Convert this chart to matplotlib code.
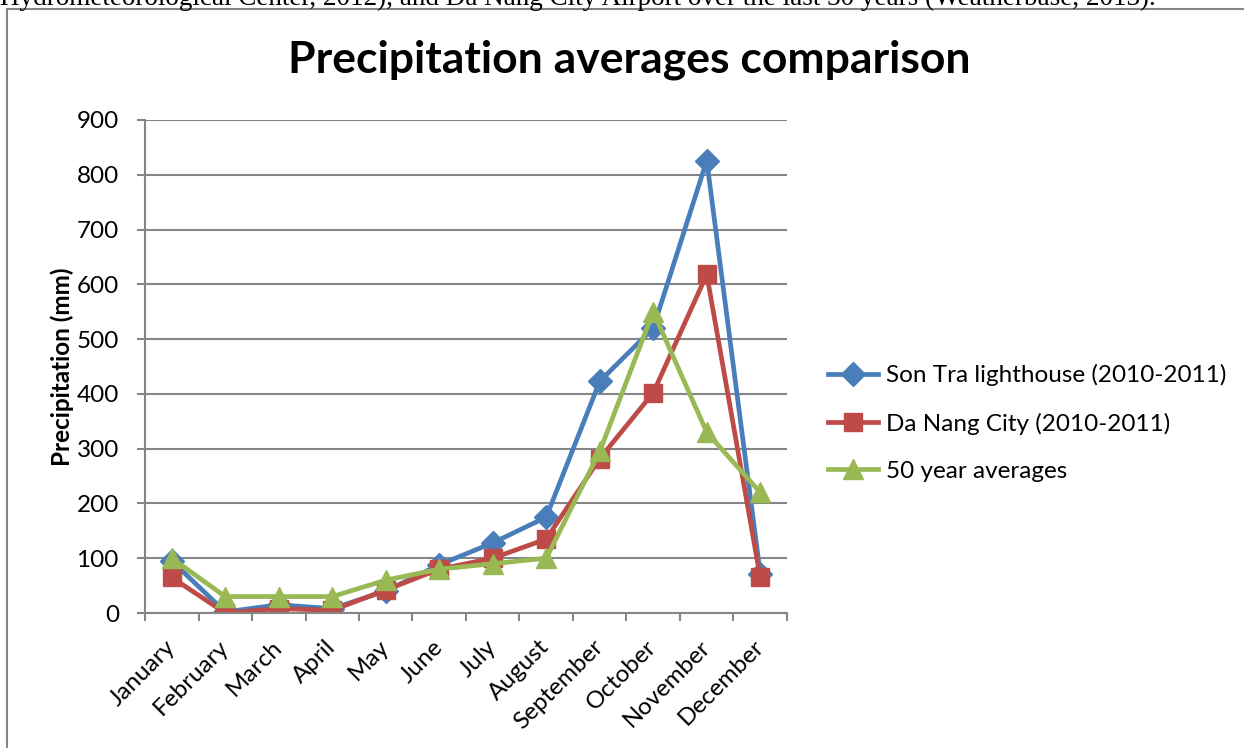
import numpy as np
import matplotlib.pyplot as plt
from matplotlib.patches import Rectangle
from matplotlib.ticker import FixedLocator

plt.rcParams['font.family'] = ['Lato', 'DejaVu Sans']

months = ["January", "February", "March", "April", "May", "June", "July",
          "August", "September", "October", "November", "December"]
son_tra = [95, 2, 15, 8, 40, 88, 128, 175, 423, 520, 826, 72]
da_nang = [65, 0, 8, 5, 42, 80, 100, 135, 282, 402, 618, 65]
fifty_year = [100, 30, 30, 30, 60, 80, 90, 100, 295, 550, 330, 220]
series_names = ["Son Tra lighthouse (2010-2011)", "Da Nang City (2010-2011)",
                "50 year averages"]

grey = "#868686"

fig = plt.figure(figsize=(12.44, 7.48), dpi=100)

# cut-off caption line from the source document
fig.text(0.0, 1 - 5 / 748, "Hydrometeorological Center, 2012), and Da Nang City Airport "
         "over the last 30 years (Weatherbase, 2013).",
         family="Liberation Serif", fontsize=19.5, va="baseline", ha="left")

# chart frame
fig.patches.append(Rectangle((7 / 1244, -0.1), 1.1, 1.1 - 9.5 / 748,
                             transform=fig.transFigure, fill=False,
                             edgecolor=grey, lw=1.5))

ax = fig.add_axes([145 / 1244, 1 - 613 / 748, 642 / 1244, 493 / 748])
x = np.arange(len(months))

ax.plot(x, son_tra, color="#4A7EBB", lw=3.4, marker="D", ms=12, label=series_names[0])
ax.plot(x, da_nang, color="#BE4B48", lw=3.4, marker="s", ms=13, label=series_names[1])
ax.plot(x, fifty_year, color="#98B954", lw=3.4, marker="^", ms=14, label=series_names[2])

ax.set_xlim(-0.5, len(months) - 0.5)
ax.set_ylim(0, 900)
ax.set_yticks(range(0, 901, 100))
ax.yaxis.grid(True, color=grey, lw=1.5)
ax.set_axisbelow(True)

ax.set_xticks(x)
ax.set_xticklabels(months, rotation=45, ha="right", va="center",
                   rotation_mode="anchor", fontsize=17.5)
ax.xaxis.set_minor_locator(FixedLocator(np.arange(-0.5, len(months), 1)))
ax.tick_params(axis="x", which="major", length=0, pad=22)
ax.tick_params(axis="x", which="minor", length=5.8, color=grey, width=1.5, direction="out")
ax.tick_params(axis="y", length=5.8, color=grey, width=1.5, labelsize=17.5, pad=13)

for s in ["top", "right"]:
    ax.spines[s].set_visible(False)
for s in ["left", "bottom"]:
    ax.spines[s].set_color(grey)
    ax.spines[s].set_linewidth(1.5)

ax.set_ylabel("Precipitation (mm)", fontsize=17.5, fontweight="bold", va="center")
ax.yaxis.set_label_coords(-0.129, 0.5)

fig.text(629 / 1244, 1 - 60 / 748, "Precipitation averages comparison",
         fontsize=32, fontweight="bold", ha="center", va="center")

fig.legend(loc="center left", bbox_to_anchor=(828 / 1244, 1 - 423 / 748),
           frameon=False, fontsize=17.5, handlelength=2.05, handletextpad=0.33,
           labelspacing=1.07, borderpad=0, borderaxespad=0)

fig.savefig("out.png", dpi=100)
